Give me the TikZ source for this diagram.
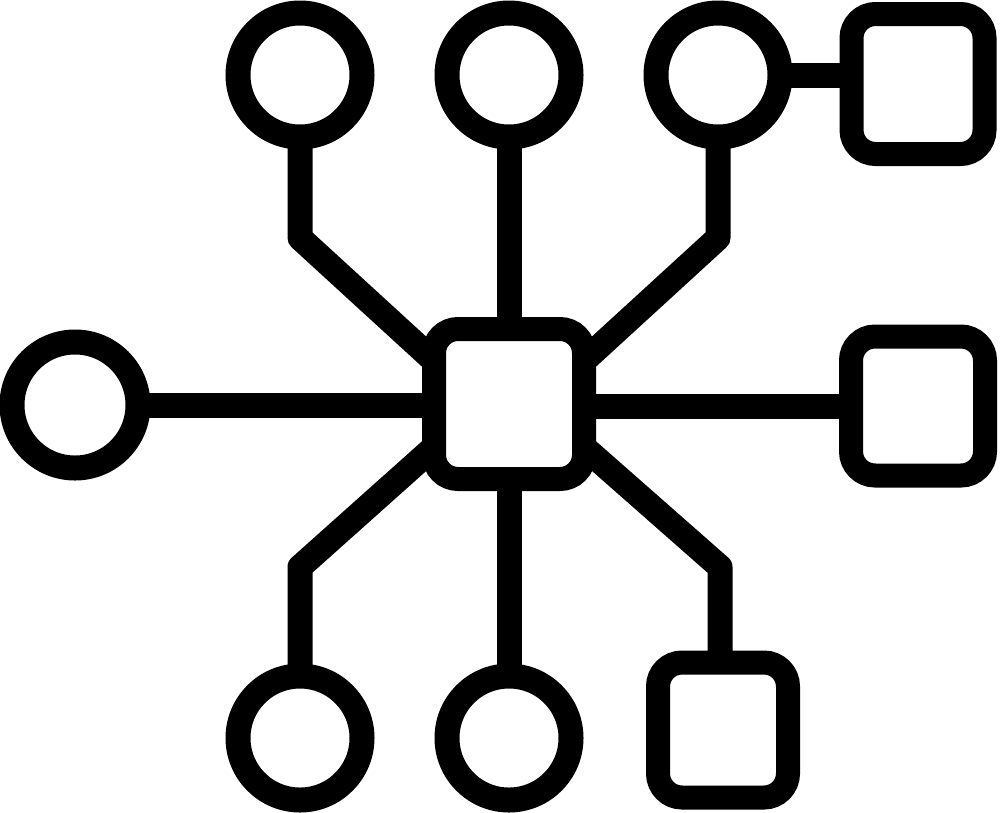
\documentclass[tikz,border=0pt]{standalone}
\usepackage{tikz}
\usetikzlibrary{positioning, calc, backgrounds}

\begin{document}
\begin{tikzpicture}[x=1pt, y=-1pt,
    circ/.style={draw=black, fill=white, circle, line width=25pt, minimum size=124pt, inner sep=0pt, outer sep=0pt},
    sq/.style={draw=black, fill=white, rectangle, line width=24pt, rounded corners=24pt, inner sep=0pt, outer sep=0pt},
    link/.style={draw=black, line width=25pt, line join=round}]
  \useasboundingbox (0,0) rectangle (1000,812);

  % top row
  \node[circ] (c1) at (300,75) {};
  \node[circ] (c2) at (509,75) {};
  \node[circ] (c3) at (718,75) {};
  \node[sq, minimum width=133pt, minimum height=140pt] (trsq) at (918,84) {};

  % middle row
  \node[circ, minimum size=126pt] (lc) at (75,405) {};
  \node[sq, minimum width=150pt, minimum height=150pt] (hub) at (509,404) {};
  \node[sq, minimum width=134pt, minimum height=139pt] (rsq) at (918,406) {};

  % bottom row
  \node[circ] (bc1) at (300,738) {};
  \node[circ] (bc2) at (509,738) {};
  \node[sq, minimum width=130pt, minimum height=135pt] (brsq) at (723,730) {};

  % bends of the connectors
  \coordinate (bTL) at (300,238);
  \coordinate (bTR) at (718,238);
  \coordinate (bBL) at (300,567);
  \coordinate (bBR) at (720,567);

  % connectors behind the shapes
  \begin{scope}[on background layer]
    \draw[link] (c1) -- (bTL) -- (hub.150);
    \draw[link] (c2) -- (hub);
    \draw[link] (c3) -- (bTR) -- (hub.30);
    \draw[link] (c3.east) -- (c3.east -| trsq.west);
    \draw[link] (lc) -- (hub.west |- lc);
    \draw[link] (hub.east |- rsq) -- (rsq);
    \draw[link] (bc1) -- (bBL) -- (hub.210);
    \draw[link] (bc2) -- (hub);
    \draw[link] (bBR |- brsq.north) -- (bBR) -- (hub.330);
  \end{scope}
\end{tikzpicture}
\end{document}
